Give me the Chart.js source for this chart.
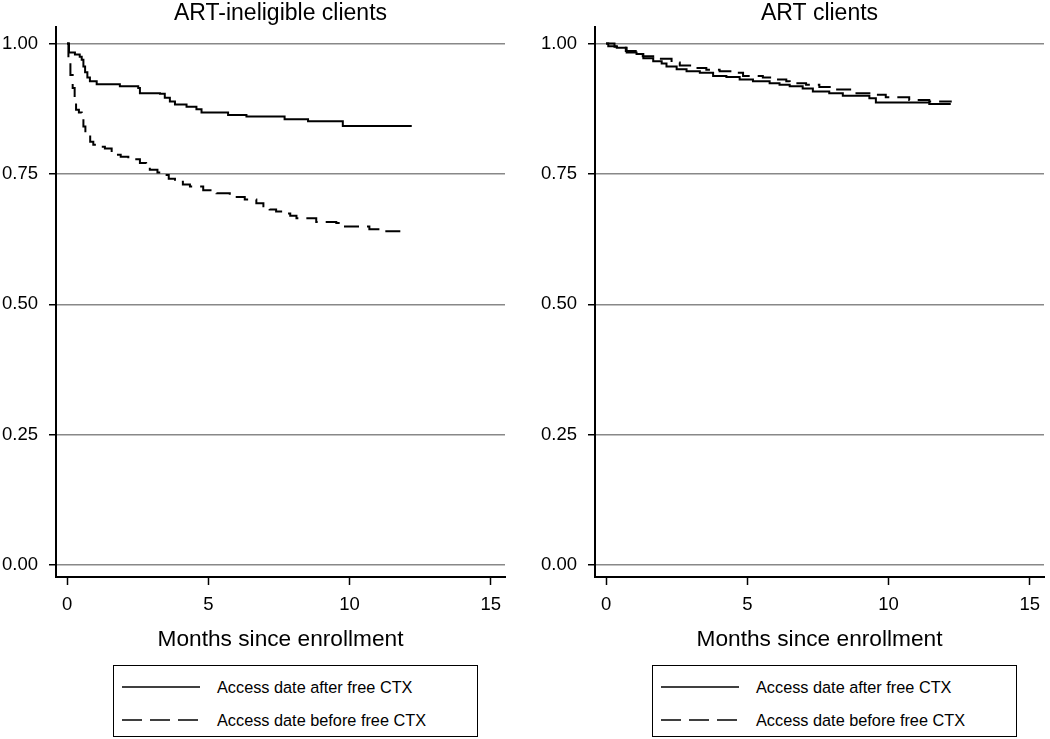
<!DOCTYPE html>
<html><head><meta charset="utf-8">
<script src="https://cdn.jsdelivr.net/npm/chart.js@4/dist/chart.umd.min.js"></script>
<style>
html,body{margin:0;padding:0;background:#fff;width:1050px;height:739px;overflow:hidden;font-family:'Liberation Sans',Arial,sans-serif;}
canvas{position:absolute;top:0;}
#c1{left:0}
#c2{left:539px}
.legend{position:absolute;top:665px;height:72px;width:365px;border:1.5px solid #000;box-sizing:border-box;background:#fff;}
.legend svg{position:absolute;left:0;top:0;}
.legend span{position:absolute;font-size:16.3px;line-height:20px;color:#000;white-space:nowrap;}
</style>
</head><body>
<canvas id="c1" width="525" height="660"></canvas>
<canvas id="c2" width="525" height="660"></canvas>
<div class="legend" id="lg1" style="left:113px"></div>
<div class="legend" id="lg2" style="left:652px"></div>
<script>
// ---- data ----
const panelTitles = ['ART-ineligible clients', 'ART clients'];
const seriesNames = ['Access date after free CTX', 'Access date before free CTX'];
const xTitle = 'Months since enrollment';
const xTicks = [0, 5, 10, 15];
const xTickLabels = ['0', '5', '10', '15'];
const yTicks = [0, 0.25, 0.5, 0.75, 1];
const yTickLabels = ['0.00', '0.25', '0.50', '0.75', '1.00'];

// ART-ineligible, access after free CTX (solid)
const leftAfterTime = [0, 0.07, 0.28, 0.45, 0.52, 0.58, 0.64, 0.72, 0.81, 1.05, 1.87, 2.52, 2.58, 3.29, 3.46, 3.64, 3.82, 4.23, 4.58, 4.76, 5.70, 6.35, 7.70, 8.53, 9.76, 12.2];
const leftAfterSurv = [1.0, 0.983, 0.979, 0.975, 0.969, 0.956, 0.945, 0.935, 0.928, 0.922, 0.918, 0.915, 0.905, 0.904, 0.896, 0.889, 0.883, 0.879, 0.874, 0.868, 0.863, 0.860, 0.855, 0.851, 0.842, 0.842];
// ART-ineligible, access before free CTX (dashed)
const leftBeforeTime = [0, 0.05, 0.12, 0.2, 0.27, 0.32, 0.42, 0.52, 0.58, 0.65, 0.72, 0.82, 0.93, 1.1, 1.34, 1.58, 1.9, 2.17, 2.58, 2.8, 2.93, 3.2, 3.4, 3.6, 3.82, 4.1, 4.35, 4.82, 5.29, 5.76, 6.29, 6.7, 6.95, 7.17, 7.4, 7.64, 7.9, 8.12, 8.82, 9.53, 9.71, 10.7, 11.18, 11.8];
const leftBeforeSurv = [1.0, 0.973, 0.94, 0.915, 0.893, 0.873, 0.868, 0.863, 0.841, 0.83, 0.822, 0.812, 0.806, 0.802, 0.799, 0.787, 0.783, 0.778, 0.771, 0.765, 0.758, 0.753, 0.748, 0.741, 0.735, 0.730, 0.726, 0.719, 0.713, 0.706, 0.701, 0.694, 0.688, 0.682, 0.678, 0.674, 0.670, 0.665, 0.658, 0.656, 0.649, 0.644, 0.640, 0.640];
// ART clients, access after free CTX (solid)
const rightAfterTime = [0, 0.08, 0.38, 0.73, 1.08, 1.32, 1.67, 1.97, 2.14, 2.5, 2.85, 3.32, 3.79, 4.26, 4.73, 5.2, 5.79, 6.14, 6.5, 6.96, 7.32, 7.9, 8.38, 9.32, 9.55, 11.44, 12.2];
const rightAfterSurv = [1.0, 0.995, 0.992, 0.983, 0.980, 0.972, 0.966, 0.962, 0.956, 0.951, 0.947, 0.944, 0.938, 0.936, 0.931, 0.928, 0.924, 0.921, 0.918, 0.914, 0.908, 0.905, 0.900, 0.895, 0.887, 0.884, 0.884];
// ART clients, access before free CTX (dashed)
const rightBeforeTime = [0, 0.3, 0.7, 1.1, 1.3, 1.67, 2.32, 2.61, 3.2, 3.55, 4.02, 4.44, 4.85, 5.55, 6.02, 6.38, 6.5, 7.08, 7.55, 8.14, 8.73, 9.32, 9.9, 10.73, 11.44, 12.2];
const rightBeforeSurv = [1.0, 0.994, 0.986, 0.980, 0.976, 0.971, 0.964, 0.958, 0.953, 0.950, 0.947, 0.944, 0.938, 0.935, 0.931, 0.928, 0.924, 0.921, 0.917, 0.912, 0.905, 0.902, 0.897, 0.892, 0.889, 0.887];

const FONT = "'Liberation Sans', Arial, Helvetica, sans-serif";
const pts = (t, s) => t.map((x, i) => ({x: x, y: s[i]}));

function makeChart(id, title, after, before) {
  return new Chart(document.getElementById(id), {
    type: 'line',
    data: {datasets: [
      {label: seriesNames[0], data: after, borderColor: '#000', borderWidth: 2, pointRadius: 0, stepped: true, fill: false},
      {label: seriesNames[1], data: before, borderColor: '#000', borderWidth: 2, borderDash: [15, 8], pointRadius: 0, stepped: true, fill: false}
    ]},
    options: {
      responsive: false, animation: false, devicePixelRatio: 1,
      layout: {padding: {left: 0, right: 20, top: 0, bottom: 0}},
      plugins: {
        legend: {display: false}, tooltip: {enabled: false},
        title: {display: true, text: title, fullSize: false, color: '#000',
                font: {family: FONT, size: 23, weight: 'normal', lineHeight: 1.15}, padding: {top: 0, bottom: 1}}
      },
      scales: {
        x: {type: 'linear', min: -0.39, max: 15.5,
            afterBuildTicks: s => { s.ticks = xTicks.map(v => ({value: v})); },
            afterFit: s => { s.height = 83; },
            grid: {drawOnChartArea: false, drawTicks: true, tickLength: 8, tickColor: '#000', tickWidth: 1.5},
            border: {display: true, color: '#000', width: 2},
            ticks: {color: '#000', font: {family: FONT, size: 18.5}, padding: 9, maxRotation: 0, autoSkip: false,
                    callback: (v, i) => xTickLabels[i]},
            title: {display: true, text: xTitle, color: '#000', font: {family: FONT, size: 22.7}, padding: {top: 0, bottom: 7}}},
        y: {min: -0.023, max: 1.031,
            afterBuildTicks: s => { s.ticks = yTicks.map(v => ({value: v})); },
            afterFit: s => { s.width = 56; },
            grid: {color: '#888', lineWidth: 1.5, tickLength: 7, tickColor: '#000', tickWidth: 1.5},
            border: {display: true, color: '#000', width: 2},
            ticks: {color: '#000', font: {family: FONT, size: 18.5}, padding: 11, autoSkip: false,
                    callback: (v, i) => yTickLabels[i]}}
      }
    }
  });
}

makeChart('c1', panelTitles[0], pts(leftAfterTime, leftAfterSurv), pts(leftBeforeTime, leftBeforeSurv));
makeChart('c2', panelTitles[1], pts(rightAfterTime, rightAfterSurv), pts(rightBeforeTime, rightBeforeSurv));

function makeLegend(id) {
  const el = document.getElementById(id);
  el.innerHTML =
    '<svg width="363" height="70">' +
    '<line x1="8" y1="21" x2="86" y2="21" stroke="#000" stroke-width="1.5"/>' +
    '<line x1="8" y1="54" x2="86" y2="54" stroke="#000" stroke-width="1.5" stroke-dasharray="20,8"/>' +
    '</svg>' +
    '<span style="left:103px;top:11px">' + seriesNames[0] + '</span>' +
    '<span style="left:103px;top:44px">' + seriesNames[1] + '</span>';
}
makeLegend('lg1');
makeLegend('lg2');
</script>
</body></html>
